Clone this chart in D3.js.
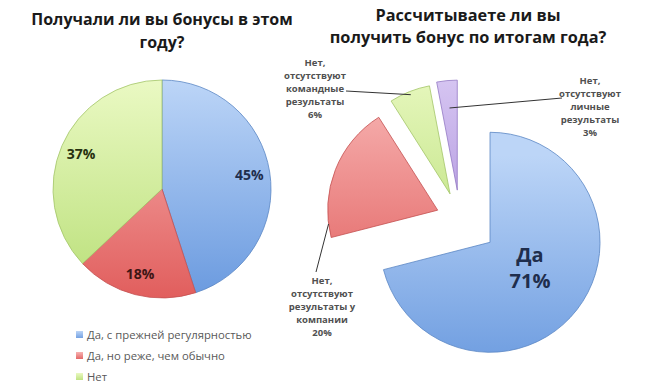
<!DOCTYPE html>
<html><head><meta charset="utf-8">
<script src="https://cdn.jsdelivr.net/npm/d3@7"></script>
<style>body{margin:0;background:#fff}svg{display:block}</style>
</head><body><svg id="c" width="646" height="390"></svg>
<script>
// ---- data ----
const leftTitle = ["Получали ли вы бонусы в этом", "году?"];
const leftCategories = ["Да, с прежней регулярностью", "Да, но реже, чем обычно", "Нет"];
const leftValues = [45, 18, 37];

const rightTitle = ["Рассчитываете ли вы", "получить бонус по итогам года?"];
const rightCategories = ["Да", "Нет, отсутствуют результаты у компании", "Нет, отсутствуют командные результаты", "Нет, отсутствуют личные результаты"];
const rightValues = [71, 20, 6, 3];
const rightLabelLines = [
  ["Да"],
  ["Нет,", "отсутствуют", "результаты у", "компании"],
  ["Нет,", "отсутствуют", "командные", "результаты"],
  ["Нет,", "отсутствуют", "личные", "результаты"]
];

// ---- styles ----
const leftColors = [["#BCD5F7", "#6A9ADF"], ["#F7B3B2", "#E15E5D"], ["#EAF9C3", "#B9DF78"]];
const rightColors = [["#BCD5F7", "#6A9ADF"], ["#F7B3B2", "#E15E5D"], ["#EAF9C3", "#B9DF78"], ["#DCCDF5", "#A98CDA"]];
const leftEdge = ["#5B86C4", "#C45050", "#A3C56A"];
const rightEdge = ["#5B86C4", "#C45050", "#A3C56A", "#9379C4"];
const leftLabelColors = ["#1F2E4D", "#3D1515", "#27320F"];
const explode = [38, 24, 27, 29];

const svg = d3.select("#c");
const defs = svg.append("defs");
const font = "'Open Sans', 'DejaVu Sans', sans-serif";

function grad(id, c, y0, y1) {
  const g = defs.append("linearGradient").attr("id", id)
    .attr("gradientUnits", "userSpaceOnUse").attr("x1", 0).attr("x2", 0).attr("y1", y0).attr("y2", y1);
  g.append("stop").attr("offset", "0%").attr("stop-color", c[0]);
  g.append("stop").attr("offset", "100%").attr("stop-color", c[1]);
}

// titles
function title(lines, cx, ys, size) {
  svg.append("g").selectAll("text").data(lines).join("text")
    .attr("x", cx).attr("y", (d, i) => ys[i]).attr("text-anchor", "middle")
    .attr("font-family", font).attr("font-weight", "bold").attr("font-size", size)
    .attr("fill", "#1a1a1a").text(d => d);
}
title(leftTitle, 162, [25, 48], 16);
title(rightTitle, 468, [21, 43], 16.3);

const pie = d3.pie().sort(null).value(d => d);

// ---- left pie ----
const lcx = 162, lcy = 189, lr = 109;
const lArcs = pie(leftValues);
const lArc = d3.arc().innerRadius(0).outerRadius(lr);
const lg = svg.append("g").attr("transform", `translate(${lcx},${lcy})`);
lArcs.forEach((a, i) => grad("lg" + i, leftColors[i], -lr, lr));
lg.selectAll("path").data(lArcs).join("path")
  .attr("d", lArc).attr("fill", (d, i) => `url(#lg${i})`)
  .attr("stroke", (d, i) => leftEdge[i]).attr("stroke-width", 0.8);
const lLab = d3.arc().innerRadius(lr * 0.81).outerRadius(lr * 0.81);
lg.selectAll("text").data(lArcs).join("text")
  .attr("transform", d => `translate(${lLab.centroid(d)})`)
  .attr("text-anchor", "middle").attr("dy", "0.35em")
  .attr("font-family", font).attr("font-weight", "bold").attr("font-size", 14)
  .attr("fill", (d, i) => leftLabelColors[i]).text(d => d.value + "%");

// legend
const leg = svg.append("g");
leftCategories.forEach((c, i) => {
  const y = 335 + i * 21;
  grad("leg" + i, leftColors[i], y - 4, y + 4);
  leg.append("rect").attr("x", 76).attr("y", y - 4).attr("width", 7).attr("height", 7)
    .attr("fill", `url(#leg${i})`);
  leg.append("text").attr("x", 87).attr("y", y).attr("dy", "0.35em")
    .attr("font-family", font).attr("font-size", 11.3).attr("fill", "#595959").text(c);
});

// ---- right pie ----
const rcx = 460, rcy = 219, rr = 110;
const rArcs = pie(rightValues);
const rArc = d3.arc().innerRadius(0).outerRadius(rr);
const rg = svg.append("g").attr("transform", `translate(${rcx},${rcy})`);
function offset(d, i) {
  const m = (d.startAngle + d.endAngle) / 2;
  return [Math.sin(m) * explode[i], -Math.cos(m) * explode[i]];
}
rArcs.forEach((a, i) => {
  const o = offset(a, i);
  grad("rg" + i, rightColors[i], o[1] - rr, o[1] + rr);
});
rg.selectAll("path").data(rArcs).join("path")
  .attr("transform", (d, i) => `translate(${offset(d, i)})`)
  .attr("d", rArc).attr("fill", (d, i) => `url(#rg${i})`)
  .attr("stroke", (d, i) => rightEdge[i]).attr("stroke-width", 0.8);

function pt(d, i, ang, frac) {
  const o = offset(d, i);
  return [rcx + o[0] + Math.sin(ang) * rr * frac, rcy + o[1] - Math.cos(ang) * rr * frac];
}

// main label inside blue slice
const b = rArcs[0];
svg.append("text").attr("x", 530).attr("y", 262).attr("text-anchor", "middle")
  .attr("font-family", font).attr("font-weight", "bold").attr("font-size", 20)
  .attr("fill", "#1F2E4D").text(rightLabelLines[0][0]);
svg.append("text").attr("x", 530).attr("y", 288).attr("text-anchor", "middle")
  .attr("font-family", font).attr("font-weight", "bold").attr("font-size", 20)
  .attr("fill", "#1F2E4D").text(b.value + "%");

// external labels
const ext = [
  {i: 1, x: 322, y0: 284, ang: a => a.startAngle + (a.endAngle - a.startAngle) * 0.1, frac: 1.0, lx: 316, ly: 272},
  {i: 2, x: 315, y0: 66, ang: a => (a.startAngle + a.endAngle) / 2, frac: 0.97, lx: 346, ly: 91},
  {i: 3, x: 590, y0: 84, ang: a => (a.startAngle + a.endAngle) / 2, frac: 0.75, lx: 562, ly: 98}
];
ext.forEach(e => {
  const a = rArcs[e.i];
  const lines = rightLabelLines[e.i].concat([a.value + "%"]);
  svg.append("g").selectAll("text").data(lines).join("text")
    .attr("x", e.x).attr("y", (d, k) => e.y0 + k * 13).attr("text-anchor", "middle")
    .attr("font-family", font).attr("font-weight", "bold").attr("font-size", 9.5)
    .attr("fill", "#505050").text(d => d);
  const p = pt(a, e.i, e.ang(a), e.frac);
  svg.append("line").attr("x1", e.lx).attr("y1", e.ly).attr("x2", p[0]).attr("y2", p[1])
    .attr("stroke", "#333").attr("stroke-width", 1);
});
</script></body></html>
